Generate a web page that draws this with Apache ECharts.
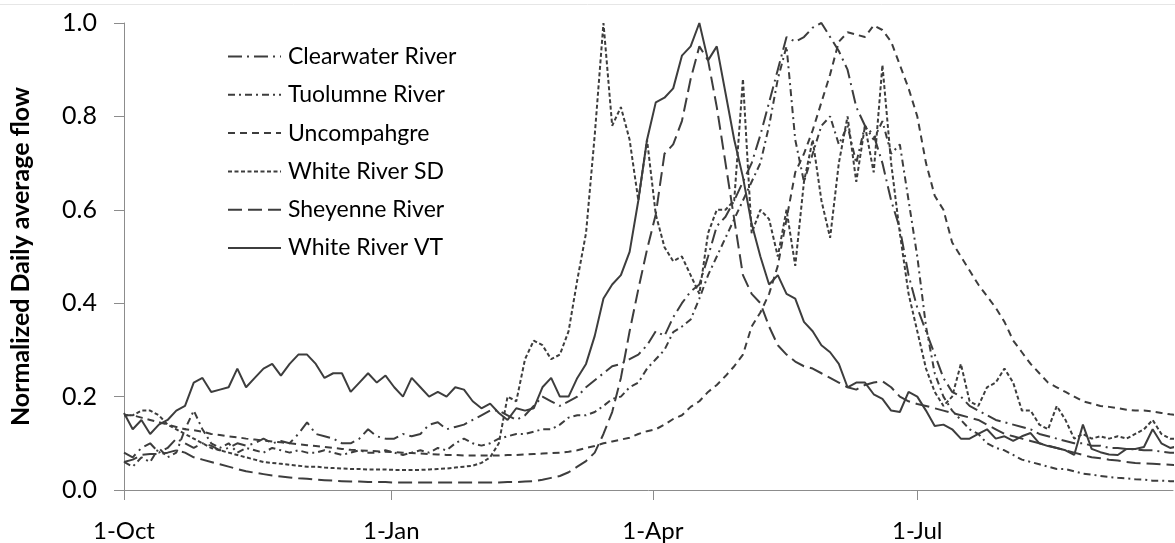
<!DOCTYPE html>
<html>
<head>
<meta charset="utf-8">
<script src="https://cdn.jsdelivr.net/npm/echarts@6/dist/echarts.min.js"></script>
<style>
  html, body { margin: 0; padding: 0; background: #ffffff; }
  #chart { width: 1175px; height: 543px; }
</style>
</head>
<body>
<div id="chart"></div>
<script>
// Water year sampled every 3 days, day 0 = 1 October.
const sampleDays = Array.from({ length: 122 }, (_, i) => i * 3);

// Month-start tick positions (days after 1 October) and their labels.
const tickDays = [0, 92, 182, 273];
const tickLabels = ['1-Oct', '1-Jan', '1-Apr', '1-Jul'];

const seriesNames = ['Clearwater River', 'Tuolumne River', 'Uncompahgre', 'White River SD', 'Sheyenne River', 'White River VT'];

// Normalized daily average flow (fraction of annual peak), one value per sample day.
const clearwater = [
  0.08, 0.07, 0.09, 0.10, 0.08, 0.09, 0.11, 0.10, 0.09, 0.10,
  0.095, 0.085, 0.09, 0.10, 0.095, 0.10, 0.11, 0.10, 0.105, 0.10,
  0.12, 0.145, 0.12, 0.115, 0.11, 0.10, 0.10, 0.11, 0.13, 0.115,
  0.11, 0.11, 0.12, 0.115, 0.12, 0.14, 0.145, 0.13, 0.135, 0.14,
  0.15, 0.16, 0.17, 0.17, 0.16, 0.15, 0.16, 0.18, 0.20, 0.19,
  0.18, 0.19, 0.20, 0.22, 0.235, 0.25, 0.265, 0.27, 0.28, 0.29,
  0.31, 0.34, 0.33, 0.37, 0.40, 0.425, 0.44, 0.50, 0.565, 0.585,
  0.62, 0.66, 0.70, 0.76, 0.83, 0.90, 0.97, 0.96, 0.97, 0.99,
  1.00, 0.97, 0.94, 0.90, 0.82, 0.78, 0.76, 0.70, 0.62, 0.56,
  0.46, 0.39, 0.34, 0.29, 0.24, 0.21, 0.20, 0.18, 0.17, 0.16,
  0.15, 0.145, 0.14, 0.135, 0.13, 0.12, 0.115, 0.11, 0.105, 0.10,
  0.10, 0.095, 0.095, 0.09, 0.09, 0.088, 0.087, 0.085, 0.085, 0.082,
  0.08, 0.08
];
const tuolumne = [
  0.06, 0.05, 0.07, 0.06, 0.09, 0.07, 0.08, 0.13, 0.17, 0.13,
  0.10, 0.09, 0.10, 0.08, 0.09, 0.085, 0.08, 0.09, 0.085, 0.08,
  0.085, 0.08, 0.08, 0.085, 0.08, 0.075, 0.08, 0.085, 0.08, 0.08,
  0.085, 0.08, 0.075, 0.08, 0.085, 0.08, 0.09, 0.085, 0.10, 0.11,
  0.10, 0.095, 0.10, 0.11, 0.115, 0.12, 0.12, 0.125, 0.13, 0.13,
  0.14, 0.155, 0.16, 0.16, 0.167, 0.18, 0.195, 0.20, 0.22, 0.23,
  0.26, 0.28, 0.30, 0.338, 0.35, 0.365, 0.41, 0.46, 0.50, 0.54,
  0.58, 0.62, 0.66, 0.70, 0.78, 0.88, 0.95, 0.75, 0.66, 0.72,
  0.78, 0.80, 0.74, 0.78, 0.70, 0.78, 0.75, 0.79, 0.72, 0.74,
  0.62, 0.50, 0.35, 0.25, 0.20, 0.17, 0.15, 0.13, 0.12, 0.10,
  0.09, 0.085, 0.075, 0.065, 0.06, 0.055, 0.05, 0.045, 0.045, 0.04,
  0.035, 0.033, 0.03, 0.028, 0.026, 0.025, 0.023, 0.022, 0.02, 0.02,
  0.019, 0.018
];
const uncompahgre = [
  0.16, 0.16, 0.155, 0.15, 0.145, 0.14, 0.135, 0.13, 0.128, 0.125,
  0.12, 0.118, 0.115, 0.113, 0.11, 0.108, 0.106, 0.104, 0.102, 0.10,
  0.098, 0.096, 0.094, 0.092, 0.09, 0.088, 0.086, 0.085, 0.084, 0.083,
  0.082, 0.081, 0.08, 0.079, 0.078, 0.077, 0.076, 0.075, 0.075, 0.074,
  0.074, 0.074, 0.074, 0.074, 0.075, 0.075, 0.076, 0.077, 0.078, 0.079,
  0.08, 0.082, 0.085, 0.09, 0.094, 0.10, 0.104, 0.108, 0.112, 0.12,
  0.126, 0.13, 0.14, 0.152, 0.16, 0.178, 0.19, 0.21, 0.225, 0.244,
  0.265, 0.29, 0.35, 0.38, 0.42, 0.48, 0.58, 0.68, 0.72, 0.77,
  0.83, 0.89, 0.96, 0.98, 0.975, 0.97, 0.995, 0.985, 0.96, 0.91,
  0.86, 0.80, 0.70, 0.63, 0.60, 0.53, 0.50, 0.47, 0.44, 0.415,
  0.39, 0.36, 0.32, 0.295, 0.27, 0.25, 0.23, 0.22, 0.21, 0.20,
  0.19, 0.185, 0.18, 0.178, 0.175, 0.172, 0.17, 0.17, 0.168, 0.165,
  0.162, 0.16
];
const whiteRiverSD = [
  0.16, 0.16, 0.17, 0.17, 0.16, 0.14, 0.13, 0.12, 0.11, 0.10,
  0.09, 0.085, 0.08, 0.075, 0.07, 0.065, 0.06, 0.058, 0.056, 0.054,
  0.052, 0.05, 0.05, 0.048, 0.047, 0.046, 0.045, 0.045, 0.044, 0.044,
  0.044, 0.043, 0.043, 0.043, 0.043, 0.044, 0.045, 0.046, 0.048, 0.05,
  0.052, 0.058, 0.07, 0.10, 0.20, 0.19, 0.28, 0.32, 0.31, 0.28,
  0.29, 0.34, 0.45, 0.55, 0.76, 1.00, 0.78, 0.82, 0.75, 0.62,
  0.75, 0.59, 0.52, 0.49, 0.50, 0.46, 0.42, 0.55, 0.60, 0.60,
  0.62, 0.88, 0.55, 0.60, 0.58, 0.50, 0.60, 0.48, 0.66, 0.75,
  0.62, 0.54, 0.70, 0.80, 0.66, 0.78, 0.68, 0.91, 0.70, 0.55,
  0.42, 0.34, 0.26, 0.21, 0.18, 0.20, 0.27, 0.19, 0.18, 0.22,
  0.23, 0.26, 0.23, 0.17, 0.17, 0.14, 0.13, 0.18, 0.15, 0.11,
  0.12, 0.11, 0.115, 0.11, 0.115, 0.11, 0.12, 0.13, 0.15, 0.12,
  0.11, 0.11
];
const sheyenne = [
  0.06, 0.065, 0.075, 0.077, 0.077, 0.08, 0.085, 0.08, 0.07, 0.065,
  0.06, 0.055, 0.05, 0.045, 0.04, 0.037, 0.034, 0.031, 0.029, 0.027,
  0.025, 0.024, 0.022, 0.021, 0.02, 0.019, 0.018, 0.018, 0.017, 0.017,
  0.017, 0.016, 0.016, 0.016, 0.016, 0.016, 0.016, 0.016, 0.016, 0.016,
  0.016, 0.016, 0.016, 0.016, 0.017, 0.017, 0.018, 0.019, 0.022, 0.026,
  0.03, 0.038, 0.05, 0.062, 0.08, 0.12, 0.167, 0.24, 0.34, 0.43,
  0.515, 0.59, 0.72, 0.74, 0.79, 0.88, 0.95, 0.92, 0.82, 0.70,
  0.58, 0.46, 0.42, 0.40, 0.35, 0.31, 0.29, 0.275, 0.265, 0.26,
  0.25, 0.24, 0.23, 0.22, 0.215, 0.225, 0.23, 0.233, 0.22, 0.20,
  0.19, 0.184, 0.18, 0.175, 0.17, 0.165, 0.16, 0.155, 0.15, 0.14,
  0.13, 0.12, 0.115, 0.11, 0.105, 0.10, 0.095, 0.09, 0.085, 0.08,
  0.075, 0.07, 0.068, 0.065, 0.063, 0.06, 0.058, 0.057, 0.056, 0.055,
  0.054, 0.053
];
const whiteRiverVT = [
  0.165, 0.13, 0.15, 0.12, 0.14, 0.15, 0.17, 0.18, 0.23, 0.24,
  0.21, 0.215, 0.22, 0.26, 0.22, 0.24, 0.26, 0.27, 0.245, 0.27,
  0.29, 0.29, 0.27, 0.24, 0.25, 0.25, 0.21, 0.23, 0.25, 0.23,
  0.245, 0.22, 0.20, 0.24, 0.22, 0.20, 0.21, 0.20, 0.22, 0.215,
  0.19, 0.175, 0.185, 0.165, 0.15, 0.175, 0.17, 0.175, 0.22, 0.24,
  0.20, 0.20, 0.24, 0.27, 0.33, 0.41, 0.44, 0.46, 0.51, 0.62,
  0.75, 0.83, 0.84, 0.86, 0.93, 0.95, 1.00, 0.92, 0.95, 0.85,
  0.75, 0.67, 0.57, 0.50, 0.44, 0.46, 0.42, 0.41, 0.36, 0.34,
  0.31, 0.295, 0.27, 0.22, 0.23, 0.23, 0.205, 0.195, 0.17, 0.167,
  0.21, 0.20, 0.17, 0.137, 0.14, 0.13, 0.11, 0.11, 0.12, 0.13,
  0.11, 0.115, 0.105, 0.115, 0.122, 0.10, 0.094, 0.09, 0.085, 0.075,
  0.14, 0.088, 0.081, 0.076, 0.075, 0.088, 0.088, 0.092, 0.13, 0.10,
  0.09, 0.094
];

const seriesValues = [clearwater, tuolumne, uncompahgre, whiteRiverSD, sheyenne, whiteRiverVT];

// Dash pattern per river, in pixels.
const dashPatterns = [
  [14, 5, 2, 5],
  [7, 4, 2, 4],
  [7, 5],
  [4, 2.5],
  [14, 6],
  'solid'
];

const FONT = 'Lato, "Open Sans", "Liberation Sans", sans-serif';
const INK = '#3d3d3d';
const AXIS = '#8c8c8c';

const chart = echarts.init(document.getElementById('chart'), null, { renderer: 'canvas' });

chart.setOption({
  animation: false,
  backgroundColor: '#ffffff',
  graphic: [{
    type: 'line',
    shape: { x1: 0, y1: 4.5, x2: 1175, y2: 4.5 },
    style: { stroke: '#e6e6e6', lineWidth: 1 },
    silent: true
  }],
  grid: { left: 117, right: 2, top: 23, bottom: 52, containLabel: false },
  legend: {
    orient: 'vertical',
    left: 222,
    top: 40,
    itemWidth: 53,
    itemHeight: 24,
    itemGap: 15.3,
    data: seriesNames,
    itemStyle: { opacity: 0 },
    textStyle: { fontFamily: FONT, fontSize: 23, color: '#000000', padding: [0, 0, 0, 2] }
  },
  xAxis: {
    type: 'value',
    min: 0,
    max: 361,
    splitLine: { show: false },
    axisLine: { show: true, lineStyle: { color: AXIS, width: 1 } },
    axisTick: { show: true, length: 10, customValues: tickDays, lineStyle: { color: AXIS } },
    axisLabel: {
      customValues: tickDays,
      margin: 29,
      fontFamily: FONT,
      fontSize: 24,
      color: '#000000',
      formatter: (v) => tickLabels[tickDays.indexOf(v)] || ''
    }
  },
  yAxis: {
    type: 'value',
    min: 0,
    max: 1,
    interval: 0.2,
    name: 'Normalized Daily average flow',
    nameLocation: 'middle',
    nameRotate: 90,
    nameGap: 91,
    nameTextStyle: { fontFamily: FONT, fontWeight: 'bold', fontSize: 25, color: '#000000' },
    splitLine: { show: false },
    axisLine: { show: true, onZero: false, lineStyle: { color: AXIS, width: 1 } },
    axisTick: { show: true, length: 10, lineStyle: { color: AXIS } },
    axisLabel: {
      margin: 27,
      fontFamily: FONT,
      fontSize: 25,
      color: '#000000',
      formatter: (v) => v.toFixed(1)
    }
  },
  series: seriesNames.map((name, k) => ({
    name,
    type: 'line',
    showSymbol: false,
    symbol: 'none',
    smooth: false,
    data: sampleDays.map((d, i) => [d, seriesValues[k][i]]),
    lineStyle: { color: INK, width: 2, type: dashPatterns[k] },
    itemStyle: { color: INK },
    emphasis: { disabled: true }
  }))
});
</script>
</body>
</html>
